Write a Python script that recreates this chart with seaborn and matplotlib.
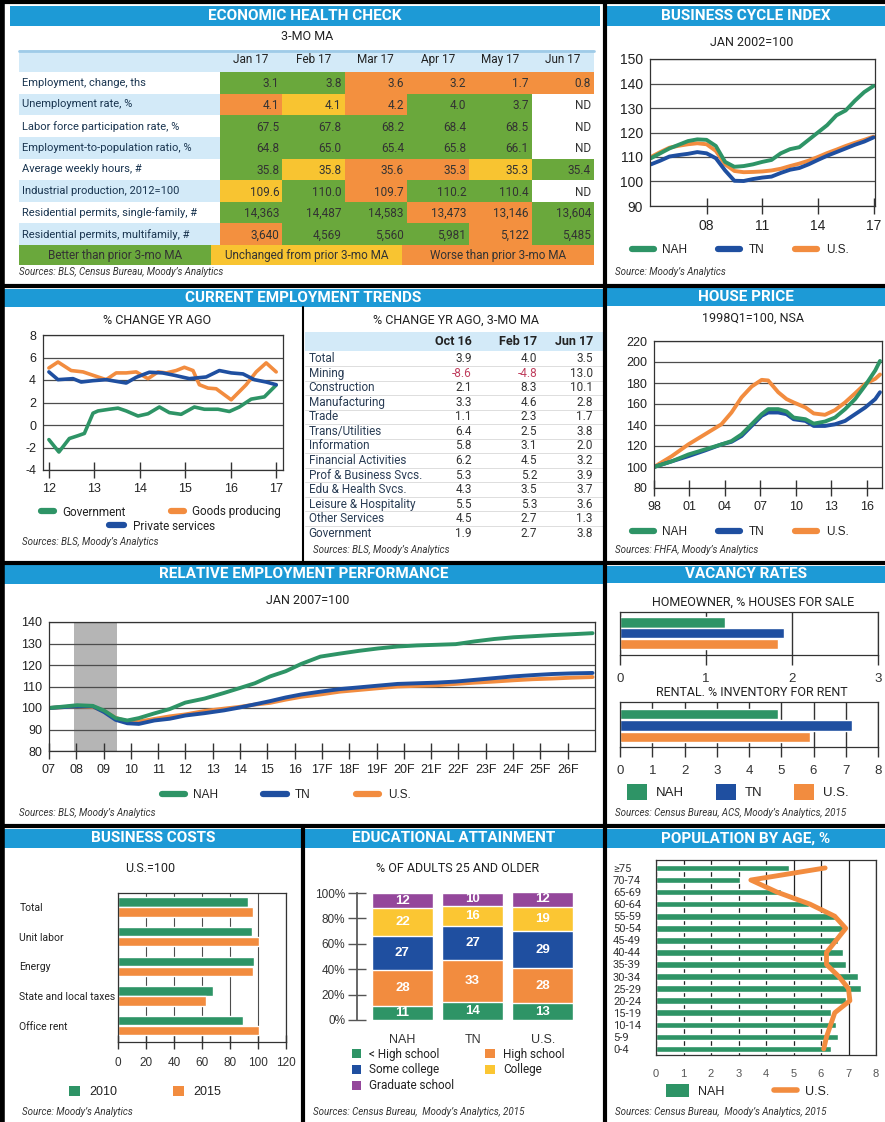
import matplotlib
matplotlib.use('Agg')
import matplotlib.pyplot as plt
from matplotlib.lines import Line2D
from matplotlib.patches import Patch
from matplotlib.colors import ListedColormap
from matplotlib import font_manager
import seaborn as sns
import pandas as pd

# ---------------- data ----------------
health_rows = ['Employment, change, ths', 'Unemployment rate, %',
               'Labor force participation rate, %', 'Employment-to-population ratio, %',
               'Average weekly hours, #', 'Industrial production, 2012=100',
               'Residential permits, single-family, #', 'Residential permits, multifamily, #']
health_cols = ['Jan 17', 'Feb 17', 'Mar 17', 'Apr 17', 'May 17', 'Jun 17']
health_vals = [['3.1', '3.8', '3.6', '3.2', '1.7', '0.8'],
               ['4.1', '4.1', '4.2', '4.0', '3.7', 'ND'],
               ['67.5', '67.8', '68.2', '68.4', '68.5', 'ND'],
               ['64.8', '65.0', '65.4', '65.8', '66.1', 'ND'],
               ['35.8', '35.8', '35.6', '35.3', '35.3', '35.4'],
               ['109.6', '110.0', '109.7', '110.2', '110.4', 'ND'],
               ['14,363', '14,487', '14,583', '13,473', '13,146', '13,604'],
               ['3,640', '4,569', '5,560', '5,981', '5,122', '5,485']]
# G better, Y unchanged, O worse, N no data
health_status = ['GGOOOO', 'OYOGGN', 'GGGGGN', 'GGGGGN', 'GYOOYG', 'YGOGGN', 'GGGOOG', 'OGGGOG']
health_legend = ['Better than prior 3-mo MA', 'Unchanged from prior 3-mo MA', 'Worse than prior 3-mo MA']

bci_year = [2005.0, 2005.5, 2006.0, 2006.5, 2007.0, 2007.5, 2008.0, 2008.5, 2009.0, 2009.5,
            2010.0, 2010.5, 2011.0, 2011.5, 2012.0, 2012.5, 2013.0, 2013.5, 2014.0, 2014.5,
            2015.0, 2015.5, 2016.0, 2016.5, 2017.0]
bci_nah = [109.5, 111.5, 113.5, 115.0, 116.5, 117.2, 117.0, 114.5, 108.0, 106.0,
           106.3, 107.0, 108.0, 108.8, 111.5, 113.2, 114.0, 117.0, 120.0, 123.0,
           127.0, 129.0, 133.0, 136.5, 139.0]
bci_tn = [107.0, 108.5, 110.2, 110.8, 111.3, 112.0, 111.5, 109.5, 104.5, 100.3,
          100.2, 101.0, 101.6, 102.0, 103.5, 104.8, 105.5, 107.0, 108.8, 110.5,
          112.0, 113.5, 115.0, 116.3, 118.0]
bci_us = [110.0, 112.0, 113.8, 114.6, 115.2, 115.6, 115.2, 112.5, 107.0, 104.3,
          103.8, 103.9, 104.1, 104.5, 105.2, 106.3, 107.3, 108.5, 110.0, 111.6,
          113.0, 114.5, 115.8, 117.0, 118.3]

cet_gov_x = [2012.0, 2012.22, 2012.45, 2012.64, 2012.78, 2012.97, 2013.08, 2013.33, 2013.52, 2013.7,
             2013.96, 2014.18, 2014.43, 2014.65, 2014.91, 2015.2, 2015.42, 2015.72, 2015.97, 2016.19,
             2016.45, 2016.74, 2017.0]
cet_gov_y = [-1.3, -2.4, -1.2, -0.95, -0.75, 1.05, 1.25, 1.4, 1.5, 1.25,
             0.8, 1.0, 1.6, 1.1, 0.95, 1.6, 1.4, 1.4, 1.2, 1.6,
             2.3, 2.5, 3.55]
cet_goods_x = [2012.0, 2012.2, 2012.49, 2012.75, 2012.97, 2013.26, 2013.48, 2013.7, 2013.92, 2014.18,
               2014.4, 2014.58, 2014.8, 2014.98, 2015.17, 2015.31, 2015.5, 2015.68, 2016.01, 2016.34,
               2016.56, 2016.78, 2017.0]
cet_goods_y = [5.07, 5.6, 4.84, 4.72, 4.42, 4.03, 4.63, 4.63, 4.72, 4.12,
               4.72, 4.63, 4.84, 5.13, 4.84, 3.58, 3.28, 3.22, 2.24, 3.58,
               4.72, 5.52, 4.72]
cet_priv_x = [2012.0, 2012.2, 2012.53, 2012.71, 2012.97, 2013.26, 2013.48, 2013.7, 2013.92, 2014.21,
              2014.5, 2014.76, 2015.09, 2015.46, 2015.75, 2016.01, 2016.27, 2016.52, 2016.78, 2017.0]
cet_priv_y = [4.72, 4.03, 4.12, 3.82, 3.94, 4.03, 3.88, 3.73, 4.24, 4.69,
              4.63, 4.42, 4.12, 4.27, 4.84, 4.63, 4.54, 4.03, 3.82, 3.58]

emp_industries = ['Total', 'Mining', 'Construction', 'Manufacturing', 'Trade', 'Trans/Utilities',
                  'Information', 'Financial Activities', 'Prof & Business Svcs.', 'Edu & Health Svcs.',
                  'Leisure & Hospitality', 'Other Services', 'Government']
emp_cols = ['Oct 16', 'Feb 17', 'Jun 17']
emp_oct16 = [3.9, -8.6, 2.1, 3.3, 1.1, 6.4, 5.8, 6.2, 5.3, 4.3, 5.5, 4.5, 1.9]
emp_feb17 = [4.0, -4.8, 8.3, 4.6, 2.3, 2.5, 3.1, 4.5, 5.2, 3.5, 5.3, 2.7, 2.7]
emp_jun17 = [3.5, 13.0, 10.1, 2.8, 1.7, 3.8, 2.0, 3.2, 3.9, 3.7, 3.6, 1.3, 3.8]

hp_year = [1998.0, 1999.5, 2000.9, 2002.3, 2003.7, 2004.55, 2005.4, 2006.25, 2007.1, 2007.65, 2008.5,
           2009.2, 2009.8, 2010.8, 2011.5, 2012.45, 2013.3, 2014.15, 2015.0, 2015.85, 2016.7, 2017.1]
hp_nah = [100, 105.4, 111.9, 116.7, 121.5, 124.7, 131.1, 140.7, 150.3, 155.1, 155.1,
          152.9, 147.1, 145.5, 141.3, 143.3, 147.1, 155.1, 164.7, 177.6, 192.0, 201.0]
hp_tn = [100, 105.4, 110.3, 115.7, 121.5, 124.0, 129.5, 139.1, 148.7, 151.9, 151.9,
         150.3, 145.5, 143.9, 139.1, 139.1, 140.7, 143.9, 150.3, 156.7, 164.7, 171.2]
hp_us = [100, 110.3, 121.5, 131.1, 140.7, 151.9, 166.3, 176.6, 183.0, 182.4, 171.2,
         164.7, 161.5, 156.7, 151.0, 149.7, 154.2, 161.5, 170.2, 179.2, 184.0, 188.1]

rep_year = [2007.0, 2008.03, 2008.6, 2009.02, 2009.44, 2009.87, 2010.29, 2010.86, 2011.42, 2011.99,
            2012.7, 2013.41, 2013.97, 2014.54, 2015.1, 2015.67, 2016.24, 2016.94, 2017.65, 2018.36,
            2019.06, 2019.77, 2020.48, 2021.19, 2021.9, 2022.6, 2023.31, 2024.02, 2024.73, 2025.43,
            2026.14, 2026.91]
rep_nah = [100, 101.3, 101.0, 98.8, 95.3, 94.2, 95.3, 97.5, 99.5, 102.5,
           104.4, 107.0, 109.2, 111.5, 114.7, 117.1, 120.5, 123.9, 125.3, 126.6,
           127.7, 128.6, 129.1, 129.4, 129.7, 131.0, 132.1, 132.9, 133.4, 133.9,
           134.3, 134.8]
rep_tn = [100, 100.8, 100.8, 98.1, 94.5, 92.9, 92.6, 94.2, 95.0, 96.5,
          97.6, 98.9, 100.2, 101.7, 103.2, 104.9, 106.3, 107.6, 108.8, 109.6,
          110.4, 111.2, 111.5, 111.8, 112.3, 113.1, 113.9, 114.7, 115.3, 115.8,
          116.1, 116.3]
rep_us = [100, 100.8, 100.5, 98.6, 95.4, 93.8, 93.7, 94.9, 96.1, 97.0,
          98.6, 99.7, 100.5, 101.6, 102.4, 103.9, 105.2, 106.3, 107.6, 108.4,
          109.2, 110.0, 110.3, 110.6, 111.2, 111.8, 112.3, 112.9, 113.4, 113.7,
          114.1, 114.4]
recession = (2007.92, 2009.5)
rep_ticks = list(range(2007, 2027))
rep_labels = ['07', '08', '09', '10', '11', '12', '13', '14', '15', '16',
              '17F', '18F', '19F', '20F', '21F', '22F', '23F', '24F', '25F', '26F']

vac_regions = ['NAH', 'TN', 'U.S.']
vac_homeowner = [1.22, 1.91, 1.84]
vac_rental = [4.9, 7.2, 5.9]

cost_items = ['Total', 'Unit labor', 'Energy', 'State and local taxes', 'Office rent']
cost_2010 = [93.0, 95.5, 97.0, 67.5, 89.5]
cost_2015 = [96.7, 100.5, 96.2, 62.5, 100.5]

edu_regions = ['NAH', 'TN', 'U.S.']
edu_levels = ['< High school', 'High school', 'Some college', 'College', 'Graduate school']
edu_nah = [11, 28, 27, 22, 12]
edu_tn = [14, 33, 27, 16, 10]
edu_us = [13, 28, 29, 19, 12]

age_groups = ['≥75', '70-74', '65-69', '60-64', '55-59', '50-54', '45-49', '40-44',
              '35-39', '30-34', '25-29', '20-24', '15-19', '10-14', '5-9', '0-4']
pop_nah = [4.85, 3.05, 4.55, 5.55, 6.55, 6.85, 6.6, 6.8, 6.9, 7.35, 7.45, 6.9, 6.35, 6.55, 6.6, 6.35]
pop_us = [6.15, 3.45, 4.4, 5.6, 6.5, 6.9, 6.55, 6.2, 6.2, 6.65, 7.0, 7.05, 6.5, 6.35, 6.2, 6.1]

# ---------------- style ----------------
W, H = 885, 1122
HDR_BLUE = '#1d9ad6'
LIGHT_BLUE = '#d3eaf8'
GREEN = '#2e9466'
BLUE = '#1f4fa0'
ORANGE = '#f28c3f'
T_GREEN = '#6aa83c'
T_YELLOW = '#f8c431'
T_ORANGE = '#f3903f'
PURPLE = '#94479b'
EDU_YELLOW = '#fbc633'
GRID = '#4d4d4d'
TXT = '#222222'
NUM = 'Liberation Sans'
LINE_PAL = {'NAH': GREEN, 'TN': BLUE, 'U.S.': ORANGE}

sns.set_theme(style='white')
have = {f.name for f in font_manager.fontManager.ttflist}
NARROW = 'Liberation Sans Narrow' if 'Liberation Sans Narrow' in have else 'Roboto'
plt.rcParams['font.family'] = ['Roboto', 'DejaVu Sans']
plt.rcParams['axes.unicode_minus'] = False

fig = plt.figure(figsize=(W / 100, H / 100), dpi=100)
fig.patch.set_facecolor('white')


def box(x0, y0, x1, y1):
    return [x0 / W, 1 - y1 / H, (x1 - x0) / W, (y1 - y0) / H]


def fpt(x, y):
    return (x / W, 1 - y / H)


def ftext(x, y, s, **kw):
    kw.setdefault('color', TXT)
    kw.setdefault('ha', 'center')
    kw.setdefault('va', 'center')
    kw.setdefault('fontsize', 9)
    fig.text(x / W, 1 - y / H, s, **kw)


def header(x0, x1, y0, y1, title):
    ax = fig.add_axes(box(x0, y0, x1, y1))
    ax.set_facecolor(HDR_BLUE)
    ax.set_xticks([])
    ax.set_yticks([])
    for s in ax.spines.values():
        s.set_visible(False)
    ax.text(0.5, 0.5, title, transform=ax.transAxes, ha='center', va='center',
            color='white', fontsize=11, fontweight='bold')


def source(x, y, s):
    ftext(x, y, s, fontsize=7, style='italic', ha='left', color='#333333')


def sep(x0, y0, x1, y1, lw=3):
    fig.add_artist(Line2D([x0 / W, x1 / W], [1 - y0 / H, 1 - y1 / H], color='black',
                          lw=lw, transform=fig.transFigure))


def bare(ax):
    ax.set_xticks([])
    ax.set_yticks([])
    for s in ax.spines.values():
        s.set_visible(False)


def long_df(series):
    frames = [pd.DataFrame({'x': xs, 'y': ys, 'series': name}) for name, (xs, ys) in series.items()]
    return pd.concat(frames, ignore_index=True)


def style_line_axes(ax, xticks, xlabels, yticks, fs=9):
    ax.set_xticks(xticks)
    ax.set_xticklabels(xlabels)
    ax.set_yticks(yticks)
    ax.set_yticklabels([str(v) for v in yticks])
    ax.set_xlabel('')
    ax.set_ylabel('')
    ax.yaxis.grid(True, color=GRID, lw=0.9)
    ax.xaxis.grid(False)
    ax.tick_params(axis='x', bottom=True, direction='inout', length=11, width=1,
                   color='#333333', labelsize=fs, pad=4)
    ax.tick_params(axis='y', left=False, length=0, labelsize=fs, pad=5)
    for lab in ax.get_xticklabels() + ax.get_yticklabels():
        lab.set_family(NUM)
        lab.set_color(TXT)
    for s in ax.spines.values():
        s.set_color('#333333')
        s.set_linewidth(0.9)
    ax.set_axisbelow(True)


def line_legend(ax, names, colors, cx, cy, ncol=3, cs=2.6, family=NUM, hl=1.9):
    handles = [Line2D([], [], color=c, lw=4.5) for c in colors]
    leg = ax.legend(handles, names, loc='center', bbox_to_anchor=fpt(cx, cy),
                    bbox_transform=fig.transFigure, ncol=ncol, frameon=False, fontsize=8.5,
                    handlelength=hl, handletextpad=0.7, columnspacing=cs)
    for t in leg.get_texts():
        t.set_family(family)
        t.set_color(TXT)
    return leg


def patch_legend(ax, names, colors, cx, cy, ncol=3, cs=2.6, size=1.0, fs=8.5, family=NUM):
    handles = [Patch(facecolor=c, edgecolor='none') for c in colors]
    leg = ax.legend(handles, names, loc='center', bbox_to_anchor=fpt(cx, cy),
                    bbox_transform=fig.transFigure, ncol=ncol, frameon=False, fontsize=fs,
                    handlelength=size, handleheight=size, handletextpad=0.7, columnspacing=cs,
                    labelspacing=0.25)
    for t in leg.get_texts():
        t.set_family(family)
        t.set_color(TXT)
    return leg


# ---------------- frame ----------------
header(10, 600, 6, 26, 'ECONOMIC HEALTH CHECK')
header(607, 885, 6, 26, 'BUSINESS CYCLE INDEX')
header(4, 603, 289, 307, 'CURRENT EMPLOYMENT TRENDS')
header(607, 885, 288, 306, 'HOUSE PRICE')
header(4, 603, 565, 584, 'RELATIVE EMPLOYMENT PERFORMANCE')
header(607, 885, 566, 583, 'VACANCY RATES')
header(4, 302, 829, 848, 'BUSINESS COSTS')
header(305, 603, 829, 848, 'EDUCATIONAL ATTAINMENT')
header(607, 885, 829, 848, 'POPULATION BY AGE, %')

# ---------------- economic health check ----------------
ftext(307, 37, '3-MO MA')
ax_h = fig.add_axes(box(19, 50, 594, 72))
ax_h.set_facecolor(LIGHT_BLUE)
bare(ax_h)
fig.add_artist(Line2D([19 / W, 594 / W], [1 - 50.5 / H, 1 - 50.5 / H], color='#9fcbe8', lw=2,
                      transform=fig.transFigure))

ax_l = fig.add_axes(box(19, 72, 220, 245))
bare(ax_l)
ax_l.set_xlim(0, 1)
ax_l.set_ylim(len(health_rows), 0)
for i in range(len(health_rows)):
    if i % 2 == 1:
        ax_l.axhspan(i, i + 1, color=LIGHT_BLUE, lw=0)

code = {'N': 0, 'G': 1, 'Y': 2, 'O': 3}
status = pd.DataFrame([[code[c] for c in s] for s in health_status], index=health_rows, columns=health_cols)
ax = fig.add_axes(box(220, 72, 594, 245))
sns.heatmap(status, ax=ax, cmap=ListedColormap(['white', T_GREEN, T_YELLOW, T_ORANGE]),
            vmin=-0.5, vmax=3.5, cbar=False, linewidths=0)
ax.xaxis.tick_top()
ax.tick_params(axis='x', length=0, pad=4, labelsize=8.5)
ax.tick_params(axis='y', length=0, pad=142.5, labelsize=8 if NARROW == 'Roboto' else 8.5)
plt.setp(ax.get_xticklabels(), rotation=0, color=TXT)
plt.setp(ax.get_yticklabels(), rotation=0, ha='left', color='#1a3550', family=NARROW)
for i, row in enumerate(health_vals):
    for j, v in enumerate(row):
        ax.text(j + 0.95, i + 0.55, v, ha='right', va='center', fontsize=8.5, color='#333333')

ax_lg = fig.add_axes(box(19, 245, 594, 265))
bare(ax_lg)
ax_lg.set_xlim(0, 3)
ax_lg.set_ylim(0, 1)
for i, (lab, col) in enumerate(zip(health_legend, [T_GREEN, T_YELLOW, T_ORANGE])):
    ax_lg.axvspan(i, i + 1, color=col, lw=0)
    ax_lg.text(i + 0.5, 0.5, lab, ha='center', va='center', fontsize=8.5, color='#333333')
source(19, 272, 'Sources: BLS, Census Bureau, Moody’s Analytics')

# ---------------- business cycle index ----------------
ftext(752, 43, 'JAN 2002=100')
ax = fig.add_axes(box(650, 59, 875, 206))
df = long_df({'NAH': (bci_year, bci_nah), 'TN': (bci_year, bci_tn), 'U.S.': (bci_year, bci_us)})
sns.lineplot(data=df, x='x', y='y', hue='series', hue_order=['U.S.', 'TN', 'NAH'],
             palette=LINE_PAL, lw=2.8, legend=False, errorbar=None, ax=ax)
ax.set_xlim(2004.95, 2017.08)
ax.set_ylim(90, 150)
style_line_axes(ax, [2008, 2011, 2014, 2017], ['08', '11', '14', '17'], list(range(90, 151, 10)), fs=10)
line_legend(ax, ['NAH', 'TN', 'U.S.'], [GREEN, BLUE, ORANGE], 740, 250)
source(615, 272, 'Source: Moody’s Analytics')

# ---------------- current employment trends: chart ----------------
ftext(157, 320, '% CHANGE YR AGO')
ax = fig.add_axes(box(43, 335, 283, 470))
df = long_df({'Government': (cet_gov_x, cet_gov_y),
              'Goods producing': (cet_goods_x, cet_goods_y),
              'Private services': (cet_priv_x, cet_priv_y)})
sns.lineplot(data=df, x='x', y='y', hue='series',
             palette={'Government': GREEN, 'Goods producing': ORANGE, 'Private services': BLUE},
             lw=2.6, legend=False, errorbar=None, ax=ax)
ax.set_xlim(2011.87, 2017.15)
ax.set_ylim(-4, 8)
style_line_axes(ax, list(range(2012, 2018)), ['12', '13', '14', '15', '16', '17'], list(range(-4, 9, 2)))
leg1 = line_legend(ax, ['Government', 'Goods producing'], [GREEN, ORANGE], 161, 512,
                   ncol=2, cs=3.8, family='Roboto', hl=1.1)
ax.add_artist(leg1)
line_legend(ax, ['Private services'], [BLUE], 162, 526, ncol=1, family='Roboto', hl=1.3)
source(22, 542, 'Sources: BLS, Moody’s Analytics')

# ---------------- current employment trends: table ----------------
ftext(456, 320, '% CHANGE YR AGO, 3-MO MA')
ax = fig.add_axes(box(305, 332, 603, 541))
bare(ax)
ax.set_xlim(0, 1)
ax.set_ylim(12.55, -1.86)
ax.axhspan(-1.86, -0.55, color=LIGHT_BLUE, lw=0)
col_right = [0.56, 0.779, 0.966]
for c, name in zip(col_right, emp_cols):
    ax.text(c, -1.2, name, ha='right', va='center', fontsize=9, fontweight='bold', color=TXT)
for i, name in enumerate(emp_industries):
    ax.text(0.012, i, name, ha='left', va='center', fontsize=8.5, color='#2a3d55')
    for c, vals in zip(col_right, [emp_oct16, emp_feb17, emp_jun17]):
        v = vals[i]
        ax.text(c, i, f'{v:.1f}', ha='right', va='center', fontsize=8.5,
                color='#c0405f' if v < 0 else '#333333')
    if i < len(emp_industries) - 1:
        ax.axhline(i + 0.5, color='#d0d0d0', lw=0.5)
source(313, 550, 'Sources: BLS, Moody’s Analytics')

# ---------------- house price ----------------
ftext(753, 318, '1998Q1=100, NSA')
ax = fig.add_axes(box(654, 341, 882, 488))
df = long_df({'NAH': (hp_year, hp_nah), 'TN': (hp_year, hp_tn), 'U.S.': (hp_year, hp_us)})
sns.lineplot(data=df, x='x', y='y', hue='series', hue_order=['U.S.', 'TN', 'NAH'],
             palette=LINE_PAL, lw=2.8, legend=False, errorbar=None, ax=ax)
ax.set_xlim(1998, 2017.27)
ax.set_ylim(80, 220)
style_line_axes(ax, list(range(1998, 2017, 3)), ['98', '01', '04', '07', '10', '13', '16'],
                list(range(80, 221, 20)))
line_legend(ax, ['NAH', 'TN', 'U.S.'], [GREEN, BLUE, ORANGE], 740, 532)
source(615, 550, 'Sources: FHFA, Moody’s Analytics')

# ---------------- relative employment performance ----------------
ftext(308, 601, 'JAN 2007=100')
ax = fig.add_axes(box(49, 622, 595, 751))
ax.axvspan(*recession, color='#b5b5b5', lw=0, zorder=0)
df = long_df({'NAH': (rep_year, rep_nah), 'TN': (rep_year, rep_tn), 'U.S.': (rep_year, rep_us)})
sns.lineplot(data=df, x='x', y='y', hue='series', hue_order=['U.S.', 'TN', 'NAH'],
             palette=LINE_PAL, lw=2.8, legend=False, errorbar=None, ax=ax)
ax.set_xlim(2007, 2027)
ax.set_ylim(80, 140)
style_line_axes(ax, rep_ticks, rep_labels, list(range(80, 141, 10)))
line_legend(ax, ['NAH', 'TN', 'U.S.'], [GREEN, BLUE, ORANGE], 286, 795, cs=3.8, hl=2.0)
source(19, 813, 'Sources: BLS, Moody’s Analytics')

# ---------------- vacancy rates ----------------
ftext(753, 602, 'HOMEOWNER, % HOUSES FOR SALE')
ftext(752, 693, 'RENTAL. % INVENTORY FOR RENT')
for rect, vals, xmax, ylim in [((620, 612, 878, 655), vac_homeowner, 3, (3.02, -0.98)),
                               ((620, 702, 878, 747), vac_rental, 8, (2.87, -1.04))]:
    ax = fig.add_axes(box(*rect))
    sns.barplot(x=vals, y=vac_regions, hue=vac_regions, palette=[GREEN, BLUE, ORANGE],
                width=0.95, saturation=1, legend=False, ax=ax)
    ax.set_xlim(0, xmax)
    ax.set_ylim(*ylim)
    ax.set_xticks(range(xmax + 1))
    ax.set_yticks([])
    ax.set_xlabel('')
    ax.set_ylabel('')
    ax.xaxis.grid(True, color='#333333', lw=1)
    ax.set_axisbelow(True)
    ax.tick_params(axis='x', bottom=True, direction='out', length=7, width=1, color='#333333',
                   labelsize=9.5, pad=6)
    for lab in ax.get_xticklabels():
        lab.set_family(NUM)
        lab.set_color('#333333')
    for s in ax.spines.values():
        s.set_color('#333333')
        s.set_linewidth(0.9)
patch_legend(ax, vac_regions, [GREEN, BLUE, ORANGE], 738, 792, cs=2.4, size=1.5, fs=9.5)
source(615, 813, 'Sources: Census Bureau, ACS, Moody’s Analytics, 2015')

# ---------------- business costs ----------------
ftext(150, 868, 'U.S.=100')
ax = fig.add_axes(box(118, 893, 286, 1042))
df = pd.DataFrame({'item': cost_items * 2,
                   'year': ['2010'] * len(cost_items) + ['2015'] * len(cost_items),
                   'value': cost_2010 + cost_2015})
sns.barplot(data=df, y='item', x='value', hue='year', palette=[GREEN, ORANGE],
            width=0.68, gap=0.08, saturation=1, legend=False, ax=ax)
ax.set_xlim(0, 120)
ax.set_ylim(4.55, -0.47)
ax.set_xticks(range(0, 121, 20))
ax.set_xlabel('')
ax.set_ylabel('')
ax.xaxis.grid(True, color=GRID, lw=0.8)
ax.set_axisbelow(True)
ax.tick_params(axis='x', bottom=True, direction='inout', length=10, width=1, color='#333333',
               labelsize=8.5, pad=6)
ax.tick_params(axis='y', left=False, length=0, pad=71, labelsize=7.5)
plt.setp(ax.get_yticklabels(), ha='left', color=TXT)
for lab in ax.get_xticklabels():
    lab.set_family(NUM)
    lab.set_color('#333333')
for s in ax.spines.values():
    s.set_color('#333333')
    s.set_linewidth(0.9)
patch_legend(ax, ['2010', '2015'], [GREEN, ORANGE], 145, 1092, ncol=2, cs=4.5, size=0.9, fs=9)
source(22, 1112, 'Source: Moody’s Analytics')

# ---------------- educational attainment ----------------
ftext(458, 868, '% OF ADULTS 25 AND OLDER')
ax = fig.add_axes(box(357, 893, 580, 1020))
edu_colors = [GREEN, ORANGE, BLUE, EDU_YELLOW, PURPLE]
edu_table = [edu_nah, edu_tn, edu_us]
for k in reversed(range(len(edu_levels))):
    cum = [sum(vals[:k + 1]) for vals in edu_table]
    sns.barplot(x=edu_regions, y=cum, color=edu_colors[k], width=0.865, saturation=1, ax=ax)
for j, vals in enumerate(edu_table):
    base = 0
    for v in vals:
        ax.text(j, base + v / 2, str(v), ha='center', va='center', color='white',
                fontsize=9.5, fontweight='bold', family=NUM)
        base += v
ax.set_xlim(-0.647, 2.53)
ax.set_ylim(0, 100)
ax.set_yticks(range(0, 101, 20))
ax.set_yticklabels([f'{v}%' for v in range(0, 101, 20)])
ax.set_xlabel('')
ax.set_ylabel('')
for name, s in ax.spines.items():
    s.set_visible(name == 'left')
ax.spines['left'].set_color('#555555')
ax.tick_params(axis='y', left=True, direction='inout', length=13, width=1, color='#555555',
               labelsize=8.5, pad=2)
ax.tick_params(axis='x', length=0, pad=10, labelsize=9)
for lab in ax.get_xticklabels() + ax.get_yticklabels():
    lab.set_family(NUM)
    lab.set_color('#333333')
order = [0, 2, 4, 1, 3]
patch_legend(ax, [edu_levels[i] for i in order], [edu_colors[i] for i in order], 458, 1070,
             ncol=2, cs=2.6, size=0.8, fs=8.5, family='Roboto')
source(313, 1112, 'Sources: Census Bureau,  Moody’s Analytics, 2015')

# ---------------- population by age ----------------
ax = fig.add_axes(box(656, 860, 876, 1055))
sns.barplot(x=pop_nah, y=age_groups, color=GREEN, width=0.55, saturation=1, ax=ax)
ax.plot(pop_us, range(len(age_groups)), color=ORANGE, lw=3.5, solid_capstyle='round',
        solid_joinstyle='round')
ax.set_xlim(0, 8)
ax.set_ylim(15.5, -0.66)
ax.set_xticks(range(0, 9))
ax.set_xlabel('')
ax.set_ylabel('')
ax.xaxis.grid(True, color='#222222', lw=0.9)
ax.set_axisbelow(True)
ax.tick_params(axis='x', bottom=False, length=0, labelsize=8, pad=10)
ax.tick_params(axis='y', left=False, length=0, pad=31, labelsize=8)
plt.setp(ax.get_yticklabels(), ha='left', color='#333333', family=['Roboto', 'DejaVu Sans'])
for lab in ax.get_xticklabels():
    lab.set_family(NUM)
    lab.set_color('#555555')
for s in ax.spines.values():
    s.set_color('#333333')
    s.set_linewidth(0.9)
handles = [Patch(facecolor=GREEN, edgecolor='none'), Line2D([], [], color=ORANGE, lw=4)]
leg = ax.legend(handles, ['NAH', 'U.S.'], loc='center', bbox_to_anchor=fpt(748, 1091),
                bbox_transform=fig.transFigure, ncol=2, frameon=False, fontsize=9,
                handlelength=1.8, handleheight=1.2, handletextpad=0.7, columnspacing=4.0)
for t in leg.get_texts():
    t.set_family(NUM)
    t.set_color(TXT)
source(615, 1112, 'Sources: Census Bureau,  Moody’s Analytics, 2015')

# ---------------- panel rules ----------------
sep(0, 1.5, 885, 1.5)
sep(2, 0, 2, 1122, lw=4)
sep(604.5, 0, 604.5, 1122)
sep(0, 286, 885, 286)
sep(0, 562.5, 885, 562.5)
sep(0, 826, 885, 826)
sep(303, 307, 303, 562, lw=1.5)
sep(303, 826, 303, 1122)

fig.savefig('out.png', dpi=100, facecolor='white')
